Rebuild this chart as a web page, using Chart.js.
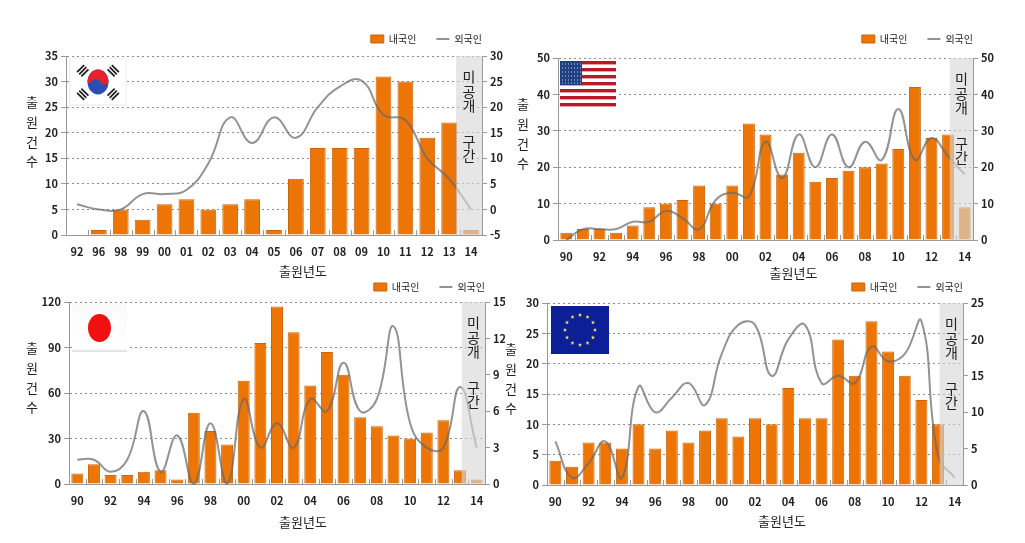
<!DOCTYPE html>
<html lang="ko">
<head>
<meta charset="utf-8">
<title>출원건수</title>
<script src="https://cdn.jsdelivr.net/npm/chart.js@4/dist/chart.umd.min.js"></script>
<style>
    html, body { margin: 0; padding: 0; background: #fff; }
    #page { position: relative; width: 1025px; height: 543px; overflow: hidden; }
    canvas, svg { position: absolute; }
</style>
</head>
<body>
<div id="page">
    <canvas id="chartKr" width="485" height="270" style="left:20px;top:14px"></canvas>
    <canvas id="chartUs" width="510" height="277" style="left:515px;top:14px"></canvas>
    <canvas id="chartJp" width="485" height="268" style="left:20px;top:262px"></canvas>
    <canvas id="chartEu" width="520" height="269" style="left:505px;top:262px"></canvas>

    <svg style="left:69px;top:58px" width="58" height="48" viewBox="0 0 58 48">
        <rect width="58" height="48" fill="#f4f4f4"/>
        <rect x="2" y="1" width="54" height="45" fill="#fff"/>
        <ellipse cx="29" cy="24" rx="10.5" ry="12.5" fill="#2a4fb0"/>
        <path d="M18.5 24a10.5 12.5 0 0 1 21 0c-2 4-6 3-8 0s-7-4-9 0c-1 1-3 1-4 0z" fill="#e8202a"/>
        <g stroke="#222" stroke-width="10" stroke-dasharray="1.8 1.2">
            <path d="M11 10l6 6"/><path d="M47 10l-6 6"/><path d="M11 39l6-6"/><path d="M47 39l-6-6"/>
        </g>
    </svg>

    <svg style="left:560px;top:61px" width="56" height="46" viewBox="0 0 56 46">
        <rect width="56" height="46" fill="#fff"/>
        <g fill="#b81a2a">
            <rect y="0" width="56" height="3.4"/><rect y="7" width="56" height="3.4"/>
            <rect y="14" width="56" height="3.4"/><rect y="21" width="56" height="3.4"/>
            <rect y="28" width="56" height="3.4"/><rect y="35" width="56" height="3.4"/>
            <rect y="42" width="56" height="3.4"/>
        </g>
        <rect width="22" height="24" fill="#1f3f82"/>
        <path d="M2 3h19M2 7h19M2 11h19M2 15h19M2 19h19M2 22h19" stroke="#c4d0e8" stroke-width="1" stroke-dasharray="1 2"/>
    </svg>

    <svg style="left:72px;top:303px" width="55" height="49" viewBox="0 0 55 49">
        <defs>
            <linearGradient id="jpEdge" x1="0" y1="0" x2="0" y2="1">
                <stop offset="0" stop-color="#fafafa"/>
                <stop offset="0.93" stop-color="#fff"/>
                <stop offset="1" stop-color="#dcdcdc"/>
            </linearGradient>
        </defs>
        <rect width="55" height="49" fill="url(#jpEdge)"/>
        <ellipse cx="27.5" cy="25" rx="11.5" ry="14" fill="#f01010"/>
    </svg>

    <svg id="flagEu" style="left:551px;top:306px" width="58" height="48" viewBox="0 0 58 48">
        <rect width="58" height="48" fill="#0c1f96"/>
    </svg>
</div>

<script>
// values
const krYears = ['92', '96', '98', '99', '00', '01', '02', '03', '04', '05', '06', '07', '08', '09', '10', '11', '12', '13', '14'];
const krDomestic = [null, 1, 5, 3, 6, 7, 5, 6, 7, 1, 11, 17, 17, 17, 31, 30, 19, 22, 1];
const krForeign = [1, 0, 0, 3, 3, 3.8, 9, 18, 13, 18, 14, 20, 24, 25.2, 18.5, 17.5, 10, 6, 0];

const years = ['90', '91', '92', '93', '94', '95', '96', '97', '98', '99', '00', '01', '02', '03', '04', '05', '06', '07', '08', '09', '10', '11', '12', '13', '14'];

const usDomestic = [2, 3, 3, 2, 4, 9, 10, 11, 15, 10, 15, 32, 29, 18, 24, 16, 17, 19, 20, 21, 25, 42, 28, 29, 9];
const usForeign = [0, 3, 3, 3, 5, 5, 8, 6, 3, 11, 13, 12, 27, 17, 29, 20, 29, 20, 27, 22, 36, 22, 28, 23, 18];

const jpDomestic = [7, 13, 6, 6, 8, 9, 3, 47, 35, 26, 68, 93, 117, 100, 65, 87, 72, 44, 38, 32, 30, 34, 42, 9, 3];
const jpForeign = [2, 2, 1, 2, 6, 1, 4, 0, 5, 0, 7, 3, 5, 3, 7, 6, 10, 6, 7, 13, 5, 3, 3, 8, 3];

const euDomestic = [4, 3, 7, 7, 6, 10, 6, 9, 7, 9, 11, 8, 11, 10, 16, 11, 11, 24, 18, 27, 22, 18, 14, 10, null];
const euForeign = [6, 1, 3, 6, 1, 13.5, 10, 12, 14, 11, 18, 22, 22, 15, 20, 22, 14, 15, 14, 19, 17, 18, 22.5, 4, 1];

const textColor = '#222';
const krFont = '"Noto Sans CJK KR", "Noto Sans", sans-serif';
const bandChars = [['미', 21], ['공', 36], ['개', 50], ['구', 86], ['간', 100]];
const yTitleChars = [['출', 46], ['원', 66], ['건', 86], ['수', 105]];

function makeChart(id, cfg) {
    const canvas = document.getElementById(id);
    const canvasLeft = parseInt(canvas.style.left);
    const canvasTop = parseInt(canvas.style.top);
    const tickFont = { size: 11, family: krFont, weight: 'bold' };

    const panelPlugin = {
        id: 'panelExtras',
        beforeInit(chart) {
            // legend keeps its item spacing but stops pushing the plot down
            const fit = chart.legend.fit;
            chart.legend.fit = function () {
                fit.call(this);
                this.height = cfg.legendHeight;
            };
        },
        afterLayout(chart) {
            // drop the trailing item padding so the legend ends flush with the plot
            chart.legend.right += 20;
        },
        beforeDatasetsDraw(chart) {
            const { ctx, chartArea, scales } = chart;
            const step = scales.x.getPixelForValue(1) - scales.x.getPixelForValue(0);
            ctx.save();
            ctx.strokeStyle = '#999';
            ctx.lineWidth = 1;
            ctx.beginPath();
            for (let i = 0; i <= cfg.labels.length; i++) {
                const x = Math.round(scales.x.getPixelForValue(0) + step * (i - 0.5)) + 0.5;
                ctx.moveTo(x, chartArea.bottom);
                ctx.lineTo(x, chartArea.bottom - 5);
            }
            ctx.stroke();
            ctx.restore();
        },
        afterDatasetsDraw(chart) {
            const { ctx, chartArea, scales } = chart;
            const last = cfg.labels.length - 1;
            const bandLeft = scales.x.getPixelForValue(last) - 15;
            ctx.save();
            // see-through band, the last bars and the line show under it
            ctx.fillStyle = 'rgba(216, 216, 216, 0.63)';
            ctx.fillRect(bandLeft, chartArea.top, chartArea.right - bandLeft, chartArea.bottom - chartArea.top);

            ctx.fillStyle = textColor;
            ctx.textAlign = 'center';
            ctx.textBaseline = 'middle';
            ctx.font = '14px ' + krFont;
            const bandCenter = (bandLeft + chartArea.right) / 2;
            bandChars.forEach(([ch, dy]) => ctx.fillText(ch, bandCenter, chartArea.top + dy));

            ctx.font = '13px ' + krFont;
            yTitleChars.forEach(([ch, dy]) => ctx.fillText(ch, chartArea.left + cfg.yTitleDx, chartArea.top + dy));

            ctx.fillText('출원년도', (chartArea.left + chartArea.right) / 2 + cfg.xTitleDx, chartArea.bottom + cfg.xTitleDy);
            ctx.restore();
        }
    };

    return new Chart(canvas, {
        data: {
            labels: cfg.labels,
            datasets: [
                {
                    type: 'line',
                    label: '외국인',
                    data: cfg.foreign,
                    yAxisID: 'y2',
                    order: 0,
                    borderColor: 'rgba(105, 105, 105, 0.72)',
                    backgroundColor: 'rgba(105, 105, 105, 0.72)',
                    borderWidth: 2,
                    tension: 0.45,
                    pointRadius: 0,
                    pointStyle: 'line',
                    clip: false
                },
                {
                    type: 'bar',
                    label: '내국인',
                    data: cfg.domestic,
                    yAxisID: 'y',
                    order: 1,
                    backgroundColor: '#ec7505',
                    borderColor: '#c9650c',
                    borderWidth: 1,
                    barPercentage: 0.72,
                    categoryPercentage: 1,
                    pointStyle: 'rect'
                }
            ]
        },
        plugins: [panelPlugin],
        options: {
            responsive: false,
            animation: false,
            layout: { padding: 0 },
            plugins: {
                tooltip: { enabled: false },
                legend: {
                    position: 'top',
                    align: 'end',
                    fullSize: false,
                    reverse: true,
                    labels: {
                        usePointStyle: true,
                        pointStyleWidth: 13,
                        boxHeight: 8,
                        padding: 20,
                        color: textColor,
                        font: { size: 10, family: krFont }
                    }
                }
            },
            scales: {
                x: {
                    grid: { display: false },
                    border: { color: '#999' },
                    afterFit(scale) { scale.height = canvas.height + canvasTop - cfg.plotBottom; },
                    ticks: {
                        autoSkip: false,
                        maxRotation: 0,
                        padding: 2,
                        color: textColor,
                        font: tickFont,
                        callback(value, index) {
                            return index % cfg.labelEvery === 0 ? cfg.labels[index] : '';
                        }
                    }
                },
                y: {
                    position: 'left',
                    min: cfg.left[0],
                    max: cfg.left[1],
                    afterFit(scale) { scale.width = cfg.plotLeft - canvasLeft; },
                    grid: { color: '#8c8c8c', tickColor: '#999', tickLength: 5 },
                    border: { color: '#999', dash: [2, 3] },
                    ticks: {
                        stepSize: cfg.left[2],
                        padding: 3,
                        color: textColor,
                        font: tickFont
                    }
                },
                y2: {
                    position: 'right',
                    min: cfg.right[0],
                    max: cfg.right[1],
                    afterFit(scale) { scale.width = canvasLeft + canvas.width - cfg.plotRight; },
                    grid: { drawOnChartArea: false, color: '#999', tickLength: 5 },
                    border: { color: '#999' },
                    ticks: {
                        stepSize: cfg.right[2],
                        padding: 3,
                        color: textColor,
                        font: tickFont
                    }
                }
            }
        }
    });
}

makeChart('chartKr', {
    labels: krYears, domestic: krDomestic, foreign: krForeign, labelEvery: 1,
    left: [0, 35, 5], right: [-5, 30, 5],
    plotLeft: 66, plotRight: 482, plotBottom: 235, legendHeight: 42,
    yTitleDx: -34, xTitleDx: 29, xTitleDy: 36
});
makeChart('chartUs', {
    labels: years, domestic: usDomestic, foreign: usForeign, labelEvery: 2,
    left: [0, 50, 10], right: [0, 50, 10],
    plotLeft: 558, plotRight: 973, plotBottom: 240, legendHeight: 44,
    yTitleDx: -35, xTitleDx: 28, xTitleDy: 33
});
makeChart('chartJp', {
    labels: years, domestic: jpDomestic, foreign: jpForeign, labelEvery: 2,
    left: [0, 120, 30], right: [0, 15, 3],
    plotLeft: 69, plotRight: 485, plotBottom: 484, legendHeight: 40,
    yTitleDx: -37, xTitleDx: 26, xTitleDy: 38
});
makeChart('chartEu', {
    labels: years, domestic: euDomestic, foreign: euForeign, labelEvery: 2,
    left: [0, 30, 5], right: [0, 25, 5],
    plotLeft: 547, plotRight: 963, plotBottom: 485, legendHeight: 41,
    yTitleDx: -36, xTitleDx: 27, xTitleDy: 36
});

// ring of twelve stars on the EU flag
const flagEu = document.getElementById('flagEu');
for (let i = 0; i < 12; i++) {
    const a = i * Math.PI / 6;
    const cx = 29 + 15 * Math.sin(a);
    const cy = 24 - 15 * Math.cos(a);
    let pts = '';
    for (let k = 0; k < 10; k++) {
        const r = k % 2 ? 0.9 : 2.2;
        const t = k * Math.PI / 5;
        pts += (cx + r * Math.sin(t)).toFixed(2) + ',' + (cy - r * Math.cos(t)).toFixed(2) + ' ';
    }
    const star = document.createElementNS('http://www.w3.org/2000/svg', 'polygon');
    star.setAttribute('points', pts);
    star.setAttribute('fill', '#e8e070');
    flagEu.appendChild(star);
}
</script>
</body>
</html>
